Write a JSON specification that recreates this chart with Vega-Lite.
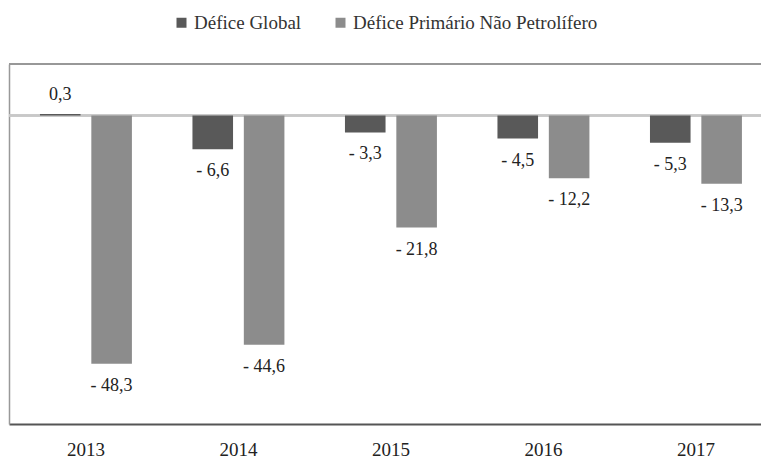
{
  "$schema": "https://vega.github.io/schema/vega-lite/v6.json",
  "width": 770,
  "height": 360,
  "autosize": {"type": "none"},
  "padding": {"left": 9, "top": 64, "right": 0, "bottom": 35},
  "background": "white",
  "config": {
    "view": {"stroke": null},
    "font": "Liberation Serif",
    "text": {"font": "Liberation Serif"},
    "legend": {"labelFont": "Liberation Serif"}
  },
  "data": {
    "values": [
      {"ano": "2013", "serie": "Défice Global", "v": 0.3},
      {"ano": "2013", "serie": "Défice Primário Não Petrolífero", "v": -48.3},
      {"ano": "2014", "serie": "Défice Global", "v": -6.6},
      {"ano": "2014", "serie": "Défice Primário Não Petrolífero", "v": -44.6},
      {"ano": "2015", "serie": "Défice Global", "v": -3.3},
      {"ano": "2015", "serie": "Défice Primário Não Petrolífero", "v": -21.8},
      {"ano": "2016", "serie": "Défice Global", "v": -4.5},
      {"ano": "2016", "serie": "Défice Primário Não Petrolífero", "v": -12.2},
      {"ano": "2017", "serie": "Défice Global", "v": -5.3},
      {"ano": "2017", "serie": "Défice Primário Não Petrolífero", "v": -13.3}
    ]
  },
  "transform": [
    {"calculate": "(datum.v < 0 ? '- ' : '') + replace(format(abs(datum.v), '.1f'), '.', ',')", "as": "rotulo"}
  ],
  "encoding": {
    "x": {
      "field": "ano", "type": "nominal", "sort": null,
      "scale": {"paddingInner": 0.397, "paddingOuter": 0.223, "align": 0.455},
      "axis": {"title": null, "labelAngle": 0, "domain": true, "domainColor": "#555555", "domainWidth": 2, "ticks": false, "labelPadding": 16, "labelFontSize": 19, "labelColor": "#222", "labelFont": "Liberation Serif"}
    },
    "xOffset": {
      "field": "serie", "type": "nominal",
      "sort": ["Défice Global", "Défice Primário Não Petrolífero"],
      "scale": {"paddingInner": 0.21, "paddingOuter": 0}
    },
    "y": {
      "field": "v", "type": "quantitative",
      "scale": {"domain": [-60, 10], "nice": false, "zero": true},
      "axis": {"title": null, "labels": false, "ticks": false, "grid": false, "domain": true, "domainColor": "#999999", "domainWidth": 1.5}
    }
  },
  "layer": [
    {
      "mark": {"type": "rule", "color": "#c8c8c8", "strokeWidth": 1.5},
      "encoding": {"y": {"datum": 0}, "x": null, "xOffset": null}
    },
    {
      "mark": {"type": "rule", "color": "#999999", "strokeWidth": 1.5},
      "encoding": {"y": {"datum": 10}, "x": null, "xOffset": null}
    },
    {
      "mark": {"type": "bar"},
      "encoding": {
        "color": {
          "field": "serie", "type": "nominal",
          "scale": {"domain": ["Défice Global", "Défice Primário Não Petrolífero"], "range": ["#595959", "#8c8c8c"]},
          "legend": {
            "title": null, "orient": "none", "direction": "horizontal",
            "legendX": 163, "legendY": -51, "padding": 0,
            "symbolType": "square", "symbolSize": 100, "symbolStrokeWidth": 0, "symbolOpacity": 1,
            "labelFont": "Liberation Serif", "labelFontSize": 19, "labelColor": "#333",
            "labelOffset": 3, "columnPadding": 29, "labelLimit": 400
          }
        }
      }
    },
    {
      "transform": [{"filter": "datum.v < 0"}],
      "mark": {"type": "text", "baseline": "top", "dy": 13, "fontSize": 18, "color": "#222", "font": "Liberation Serif"},
      "encoding": {"text": {"field": "rotulo"}}
    },
    {
      "transform": [{"filter": "datum.v >= 0"}],
      "mark": {"type": "text", "baseline": "alphabetic", "dy": -14, "fontSize": 18, "color": "#222", "font": "Liberation Serif"},
      "encoding": {"text": {"field": "rotulo"}}
    }
  ]
}
